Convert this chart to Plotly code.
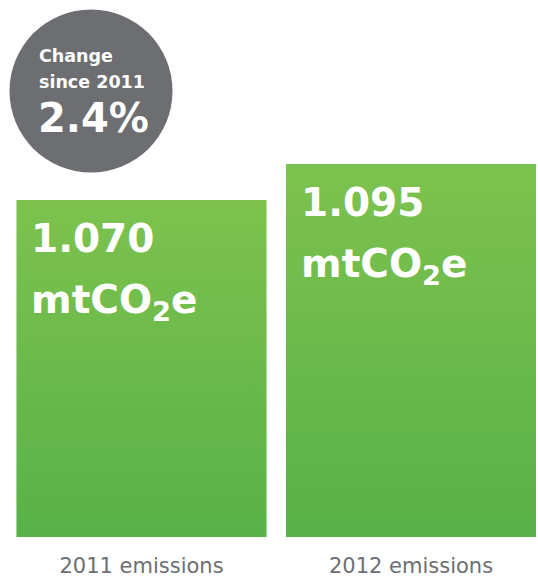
import plotly.graph_objects as go

categories = ["2011 emissions", "2012 emissions"]
values = [1.070, 1.095]
value_labels = ["1.070", "1.095"]
unit_label = "mtCO<sub>2</sub>e"
change_title = ["Change", "since 2011"]
change_pct = "2.4%"

W, H = 538, 579
MB = 42
plot_h = H - MB
y_min, y_max = 0.836, 1.2089
bar_w = 0.928
xs = [0, 1]
FONT = "DejaVu Sans"
VS = 39  # value font size


def py(p):
    return 1 - p / plot_h


fig = go.Figure()
for i, v in zip(xs, values):
    fig.add_trace(go.Scatter(
        x=[i - bar_w / 2, i + bar_w / 2, i + bar_w / 2, i - bar_w / 2, i - bar_w / 2],
        y=[y_min, y_min, v, v, y_min],
        mode="lines", line=dict(width=0), fill="toself",
        fillgradient=dict(type="vertical",
                          colorscale=[[0, "#59b147"], [1, "#7dc24e"]]),
        hoverinfo="skip", showlegend=False,
    ))
    for txt, cap_top in [(value_labels[i], 23), (unit_label, 83.5)]:
        fig.add_annotation(
            x=i - bar_w / 2, y=v, xref="x", yref="y",
            xanchor="left", yanchor="top", xshift=13,
            yshift=-(cap_top - 0.2 * VS - 1),
            text=f"<b>{txt}</b>", showarrow=False, align="left",
            font=dict(family=FONT, size=VS, color="white"),
        )

# circle
cx, cy, r = 91, 91, 81.5
fig.add_shape(type="circle", xref="paper", yref="paper",
              xsizemode="pixel", ysizemode="pixel",
              xanchor=cx / W, yanchor=py(cy),
              x0=-r, x1=r, y0=-r, y1=r,
              fillcolor="#6d6e71", line=dict(width=0), layer="above")
for txt, cap_top, size, left in [(change_title[0], 48, 17.5, 37),
                                 (change_title[1], 74, 17.5, 37),
                                 (change_pct, 102, 40, 36)]:
    fig.add_annotation(x=left / W, y=py(cap_top - 0.2 * size - 1),
                       xref="paper", yref="paper",
                       xanchor="left", yanchor="top", showarrow=False, align="left",
                       text=f"<b>{txt}</b>",
                       font=dict(family=FONT, size=size, color="white"))

fig.update_layout(
    width=W, height=H,
    margin=dict(l=0, r=0, t=0, b=MB),
    plot_bgcolor="white", paper_bgcolor="white",
    xaxis=dict(range=[-141.5 / 269.5, (W - 141.5) / 269.5], automargin=False,
               tickvals=xs, ticktext=categories, showgrid=False, zeroline=False,
               showline=False, ticks="", ticklabelstandoff=14,
               tickfont=dict(family=FONT, size=21, color="#6d6e71")),
    yaxis=dict(range=[y_min, y_max], visible=False, showgrid=False, automargin=False),
)
fig.write_html("out.html", config={"displayModeBar": False},
               post_script="document.body.style.margin='0';document.body.style.overflow='hidden';")
